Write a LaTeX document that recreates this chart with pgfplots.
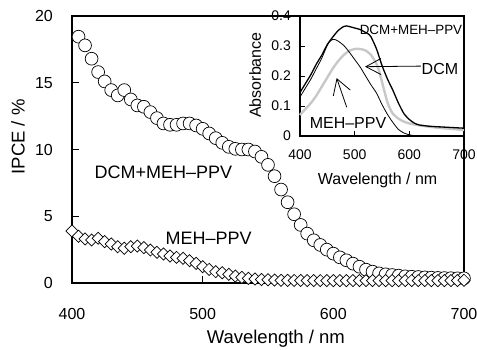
\documentclass[border=0pt]{standalone}
\usepackage{pgfplots}
\pgfplotsset{compat=1.18}
\usepackage{fontspec}
\setmainfont{Liberation Sans}
\usetikzlibrary{arrows.meta}
\definecolor{lgray}{RGB}{200,200,200}

\pgfplotstableread{
x y
405 18.45
410 17.8
415 16.8
420 15.8
425 15.1
430 14.45
435 14.05
440 14.45
445 13.75
450 13.3
455 13.2
460 12.8
465 12.35
470 11.95
475 11.85
480 11.85
485 11.95
490 11.95
495 11.8
500 11.55
505 11.2
510 10.85
515 10.5
520 10.2
525 10.05
530 10.0
535 10.0
540 9.85
545 9.45
550 8.85
555 8.0
560 7.0
565 6.05
570 5.15
575 4.35
580 3.7
585 3.2
590 2.85
595 2.5
600 2.2
605 1.92
610 1.7
615 1.45
620 1.22
625 1.0
630 0.85
635 0.72
640 0.65
645 0.6
650 0.55
655 0.5
660 0.47
665 0.45
670 0.42
675 0.4
680 0.38
685 0.37
690 0.36
695 0.35
700 0.35
}\ipceblend

\pgfplotstableread{
x y
400 3.9
405 3.5
410 3.3
415 3.22
420 3.35
425 3.1
430 2.92
435 2.72
440 2.6
445 2.72
450 2.77
455 2.65
460 2.47
465 2.3
470 2.17
475 2.02
480 1.92
485 1.85
490 1.67
495 1.47
500 1.22
505 1.02
510 0.85
515 0.77
520 0.65
525 0.52
530 0.42
535 0.35
540 0.3
545 0.26
550 0.24
555 0.22
560 0.2
565 0.2
570 0.19
575 0.19
580 0.18
585 0.18
590 0.18
595 0.18
600 0.18
605 0.18
610 0.18
615 0.18
620 0.18
625 0.18
630 0.18
635 0.18
640 0.18
645 0.18
650 0.18
655 0.18
660 0.18
665 0.18
670 0.18
675 0.18
680 0.18
685 0.18
690 0.18
695 0.18
700 0.2
}\ipcemeh

\pgfplotstableread{
x y
400 0.145
410 0.175
420 0.205
430 0.24
440 0.27
450 0.305
460 0.33
470 0.352
480 0.365
485 0.367
490 0.365
500 0.36
510 0.355
520 0.345
525 0.34
530 0.33
540 0.29
550 0.235
560 0.19
570 0.152
580 0.11
590 0.075
600 0.055
610 0.042
620 0.036
640 0.032
660 0.03
680 0.028
700 0.026
}\absblend

\pgfplotstableread{
x y
400 0.13
410 0.16
420 0.19
430 0.225
440 0.26
450 0.303
455 0.316
460 0.322
465 0.321
470 0.316
480 0.302
490 0.28
500 0.255
510 0.23
520 0.2
530 0.17
540 0.143
550 0.105
560 0.072
570 0.045
580 0.022
590 0.01
600 0.004
610 0.001
620 0.0
700 0.0
}\absdcm

\pgfplotstableread{
x y
400 0.07
410 0.09
420 0.11
430 0.135
440 0.165
450 0.195
460 0.225
470 0.25
480 0.27
490 0.284
500 0.29
510 0.29
520 0.285
530 0.27
540 0.24
545 0.215
550 0.18
555 0.145
560 0.112
565 0.09
570 0.074
580 0.058
590 0.048
600 0.042
620 0.035
650 0.028
700 0.02
}\absmeh

\begin{document}
\begin{tikzpicture}
\useasboundingbox (-72pt,-67pt) rectangle (405pt,283pt);
\begin{axis}[
  at={(0pt,0pt)}, anchor=south west,
  scale only axis, width=392pt, height=267pt,
  xmin=400, xmax=700, ymin=0, ymax=20,
  xtick={400,500,600,700}, ytick={0,5,10,15,20},
  tick pos=left, tick align=inside,
  major tick length=7pt,
  axis line style={line width=1.3pt},
  every tick/.style={black, line width=1pt},
  /pgf/number format/assume math mode=true,
  ticklabel style={font=\fontsize{16}{19}\selectfont},
  xticklabel style={anchor=north, inner sep=0pt, yshift=-25pt},
  yticklabel style={anchor=east, inner sep=0pt, xshift=-19pt},
  xlabel={Wavelength / nm}, ylabel={IPCE / \%},
  label style={font=\fontsize{18.5}{22}\selectfont},
  xlabel style={at={(axis description cs:0.52,-0.21)}, anchor=center},
  ylabel style={at={(axis description cs:-0.138,0.547)}, anchor=center},
  clip=false,
]
\addplot[only marks, mark=*, mark size=6.4pt, mark options={fill=white, draw=black, line width=0.7pt}] table[x=x,y=y] {\ipceblend};
\addplot[only marks, mark=square*, mark size=4.3pt, mark options={rotate=45, fill=white, draw=black, line width=0.7pt}] table[x=x,y=y] {\ipcemeh};
\node[font=\fontsize{18}{21}\selectfont] at (axis cs:470,8.31) {DCM+MEH–PPV};
\node[font=\fontsize{18}{21}\selectfont] at (axis cs:504.5,3.33) {MEH–PPV};
\end{axis}

\begin{axis}[
  at={(228pt,147pt)}, anchor=south west,
  scale only axis, width=164pt, height=120pt,
  xmin=400, xmax=700, ymin=0, ymax=0.4,
  xtick={400,500,600,700}, ytick={0,0.1,0.2,0.3,0.4},
  tick pos=left, tick align=inside,
  major tick length=5pt,
  axis line style={line width=1.2pt},
  every tick/.style={black, line width=0.9pt},
  /pgf/number format/assume math mode=true,
  ticklabel style={font=\fontsize{14}{17}\selectfont},
  xticklabel style={anchor=north, inner sep=0pt, yshift=-14pt},
  yticklabel style={anchor=east, inner sep=0pt, xshift=-9pt},
  xlabel={Wavelength / nm}, ylabel={Absorbance},
  label style={font=\fontsize{16}{19}\selectfont},
  xlabel style={at={(axis description cs:0.473,-0.367)}, anchor=center},
  ylabel style={at={(axis description cs:-0.274,0.508)}, anchor=center},
  clip=false,
]
\addplot[lgray, line width=2.4pt, smooth, tension=0.4] table[x=x,y=y] {\absmeh};
\addplot[black, line width=0.8pt, smooth, tension=0.4] table[x=x,y=y] {\absdcm};
\addplot[black, line width=1.3pt, smooth, tension=0.4] table[x=x,y=y] {\absblend};
\node[font=\fontsize{13.4}{16}\selectfont] at (axis cs:603,0.353) {DCM+MEH–PPV};
\node[font=\fontsize{16}{19}\selectfont] at (axis cs:656,0.223) {DCM};
\node[font=\fontsize{16}{19}\selectfont] at (axis cs:487.8,0.044) {MEH–PPV};
\draw[line width=0.8pt, -{Straight Barb[length=15pt, width=16pt]}] (axis cs:621,0.233) -- (axis cs:519,0.231);
\draw[line width=0.8pt, -{Straight Barb[length=15pt, width=18pt]}] (axis cs:485.4,0.096) -- (axis cs:467.1,0.193);
\end{axis}
\end{tikzpicture}
\end{document}
